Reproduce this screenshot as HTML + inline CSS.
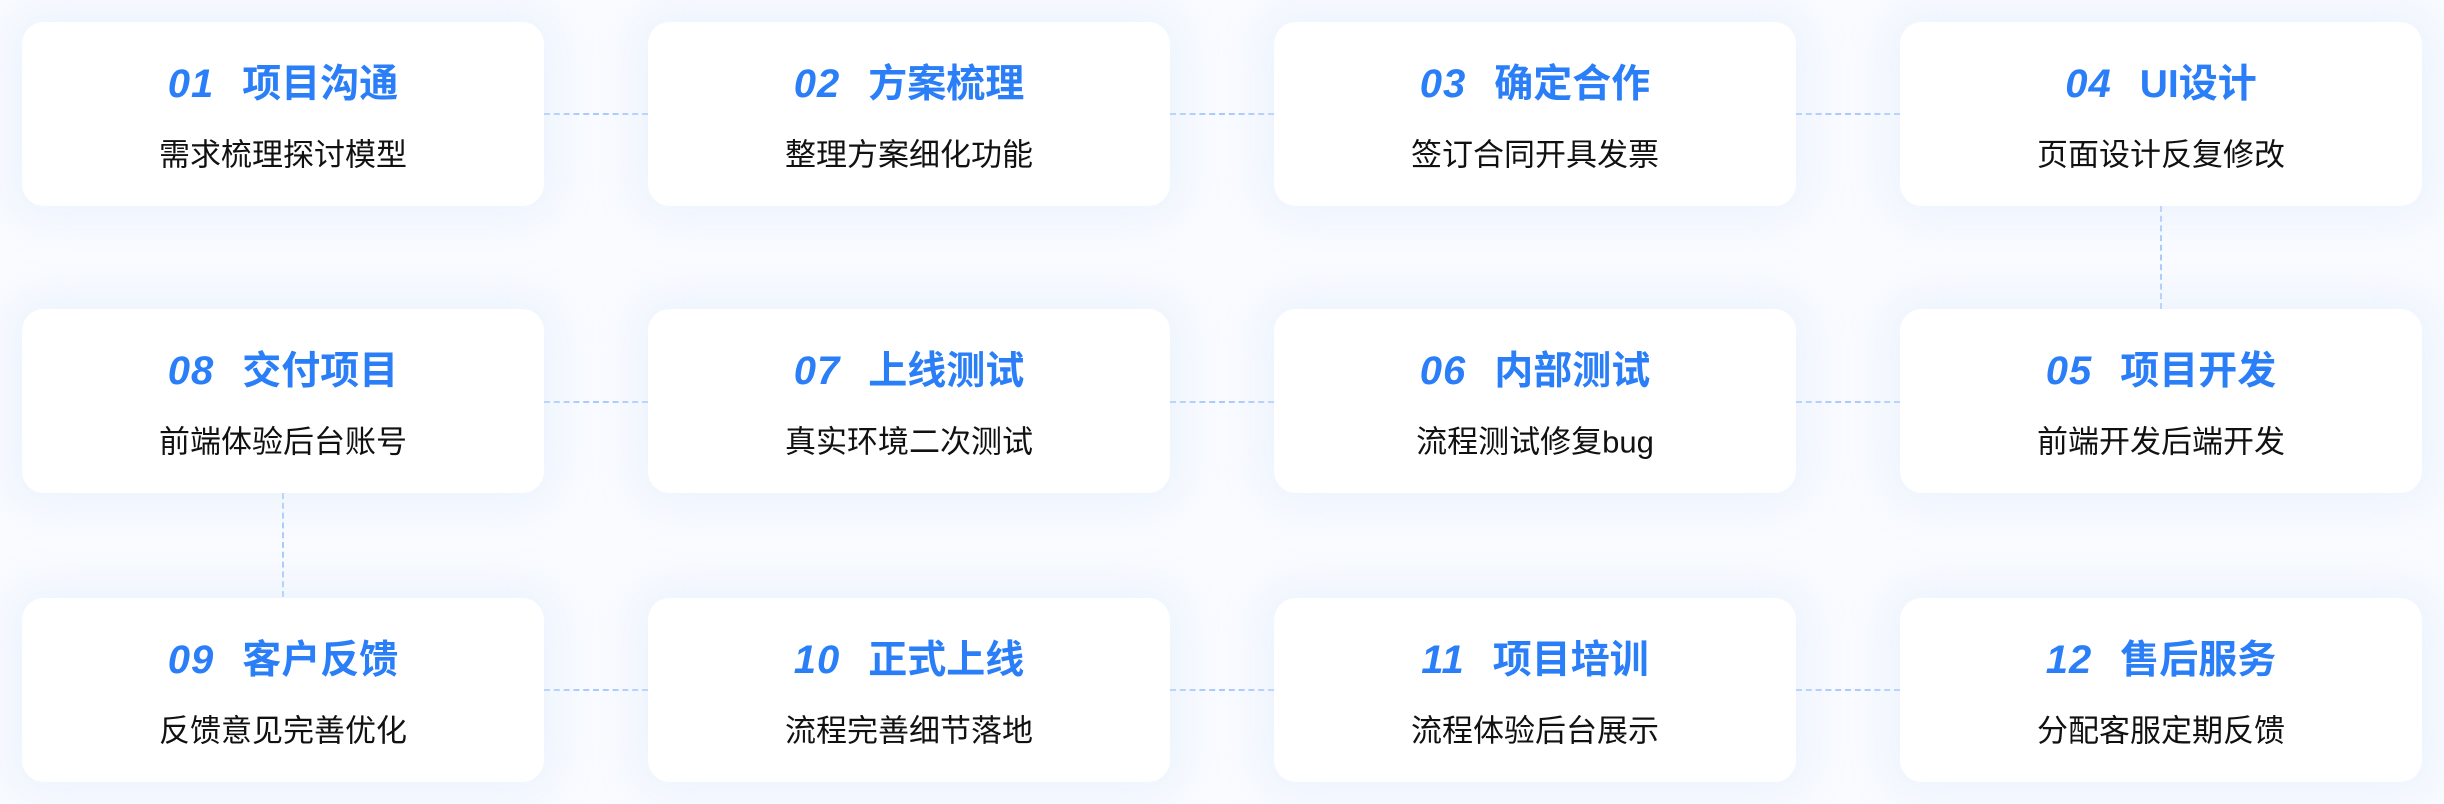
<!DOCTYPE html>
<html><head><meta charset="utf-8"><style>
html,body{margin:0;padding:0;}
body{width:2444px;height:804px;background:#f9fbff;position:relative;overflow:hidden;font-family:"Liberation Sans","Noto Sans CJK SC",sans-serif;}
.c{position:absolute;width:522px;height:184px;background:#fff;border-radius:22px;box-shadow:0 0 40px 14px rgba(225,234,250,0.45);}
.t{position:absolute;left:0;right:0;top:59px;transform:translateY(-50%);text-align:center;white-space:nowrap;color:#2a7ef7;font-size:39px;font-weight:700;}
.t b{font-style:italic;font-weight:900;font-size:40px;margin-right:28px;letter-spacing:1px;}
.s{position:absolute;left:0;right:0;top:130px;transform:translateY(-50%);text-align:center;white-space:nowrap;color:#111;font-size:31px;}
.h{position:absolute;height:0;border-top:2px dashed #a9cbfb;width:104px;}
.v{position:absolute;width:0;border-left:2px dashed #a9cbfb;}
</style></head><body>
<div class="h" style="left:544px;top:113px"></div>
<div class="h" style="left:1170px;top:113px"></div>
<div class="h" style="left:1796px;top:113px"></div>
<div class="h" style="left:544px;top:401px"></div>
<div class="h" style="left:1170px;top:401px"></div>
<div class="h" style="left:1796px;top:401px"></div>
<div class="h" style="left:544px;top:689px"></div>
<div class="h" style="left:1170px;top:689px"></div>
<div class="h" style="left:1796px;top:689px"></div>
<div class="v" style="left:2160px;top:206px;height:103px"></div>
<div class="v" style="left:282px;top:493px;height:104px"></div>

<div class="c" style="left:22px;top:22px"><div class="t"><b>01</b>项目沟通</div><div class="s">需求梳理探讨模型</div></div>
<div class="c" style="left:648px;top:22px"><div class="t"><b>02</b>方案梳理</div><div class="s">整理方案细化功能</div></div>
<div class="c" style="left:1274px;top:22px"><div class="t"><b>03</b>确定合作</div><div class="s">签订合同开具发票</div></div>
<div class="c" style="left:1900px;top:22px"><div class="t"><b>04</b>UI设计</div><div class="s">页面设计反复修改</div></div>

<div class="c" style="left:22px;top:309px"><div class="t"><b>08</b>交付项目</div><div class="s">前端体验后台账号</div></div>
<div class="c" style="left:648px;top:309px"><div class="t"><b>07</b>上线测试</div><div class="s">真实环境二次测试</div></div>
<div class="c" style="left:1274px;top:309px"><div class="t"><b>06</b>内部测试</div><div class="s">流程测试修复bug</div></div>
<div class="c" style="left:1900px;top:309px"><div class="t"><b>05</b>项目开发</div><div class="s">前端开发后端开发</div></div>

<div class="c" style="left:22px;top:598px"><div class="t"><b>09</b>客户反馈</div><div class="s">反馈意见完善优化</div></div>
<div class="c" style="left:648px;top:598px"><div class="t"><b>10</b>正式上线</div><div class="s">流程完善细节落地</div></div>
<div class="c" style="left:1274px;top:598px"><div class="t"><b>11</b>项目培训</div><div class="s">流程体验后台展示</div></div>
<div class="c" style="left:1900px;top:598px"><div class="t"><b>12</b>售后服务</div><div class="s">分配客服定期反馈</div></div>
</body></html>
